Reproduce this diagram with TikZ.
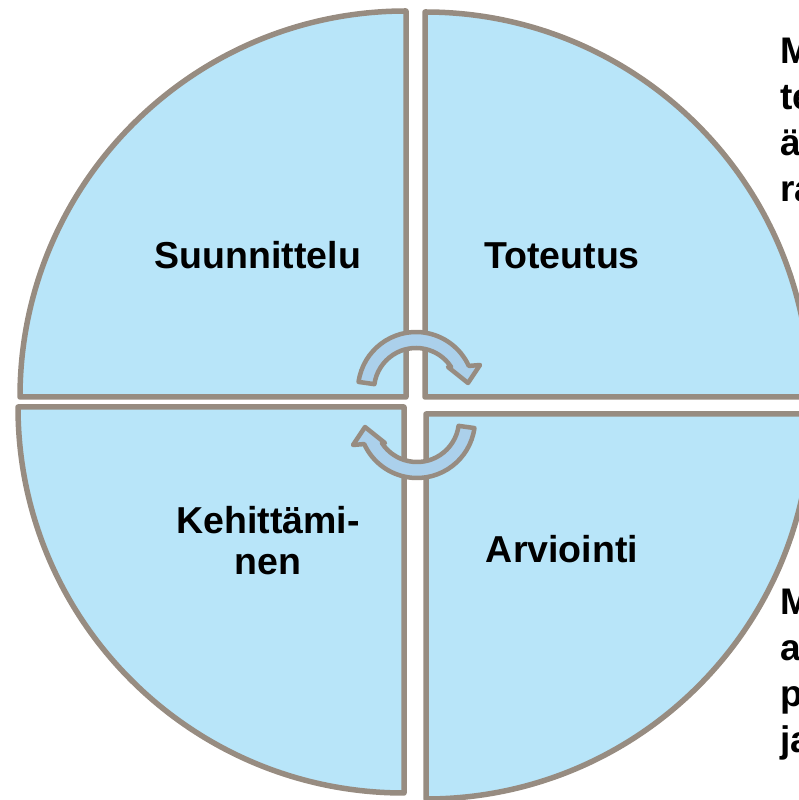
\documentclass[tikz,border=0pt]{standalone}
\usepackage{fontspec}
\setmainfont{Liberation Sans}
\usepackage{tikz}
\usetikzlibrary{positioning}
\definecolor{quarterfill}{RGB}{184,229,249}
\definecolor{arrowfill}{RGB}{171,208,235}
\definecolor{rim}{RGB}{151,140,129}

\begin{document}
\begin{tikzpicture}[x=1pt, y=1pt,
    quarter/.style={fill=quarterfill, draw=rim, line width=5.5pt, line join=round},
    cyclearrow/.style={fill=arrowfill, draw=rim, line width=4.5pt, line join=round},
    phasetext/.style={font=\fontsize{37.5}{41}\selectfont\bfseries, inner sep=0pt, align=center},
    sidetext/.style={font=\fontsize{37}{46}\selectfont\bfseries, inner sep=0pt, align=left}]
  \useasboundingbox (0,0) rectangle (799,800);
  % four quarters
  \draw[quarter] (406,403) -- (20,403) arc[start angle=180, end angle=90, radius=386] -- cycle;
  \draw[quarter] (425,403) -- (425,788) arc[start angle=90, end angle=0, radius=385] -- cycle;
  \draw[quarter] (404,393) -- (18,393) arc[start angle=180, end angle=270, radius=386] -- cycle;
  \draw[quarter] (426,386) -- (811,386) arc[start angle=0, end angle=-90, radius=385] -- cycle;
  % circular arrows
  \begin{scope}[shift={(416,410)}]
    \draw[cyclearrow] (172:58) arc[start angle=172, end angle=24.5, radius=58]
      -- (64,25) -- (52,7) -- (32,23) -- (33.2:42) arc[start angle=33.2, end angle=172, radius=42] -- cycle;
  \end{scope}
  \begin{scope}[shift={(417,380)}, rotate=180]
    \draw[cyclearrow] (172:58) arc[start angle=172, end angle=24.5, radius=58]
      -- (64,25) -- (52,7) -- (32,23) -- (33.2:42) arc[start angle=33.2, end angle=172, radius=42] -- cycle;
  \end{scope}
  % phase names
  \node[phasetext, anchor=base] (plan) at (258,531) {Suunnittelu};
  \node[phasetext, anchor=base] (doing) at (562,531) {Toteutus};
  \node[phasetext, anchor=base] (review) at (562,237) {Arviointi};
  \node[phasetext, anchor=north] (develop) at (268,294) {Kehittämi-\\nen};
  % side notes, cut by the page edge
  \node[sidetext, anchor=north west] (notetop) at (780,762) {M\\te\\ä\\ra};
  \node[sidetext, anchor=north west] (notebottom) at (780,211) {M\\a\\p\\ja};
\end{tikzpicture}
\end{document}
